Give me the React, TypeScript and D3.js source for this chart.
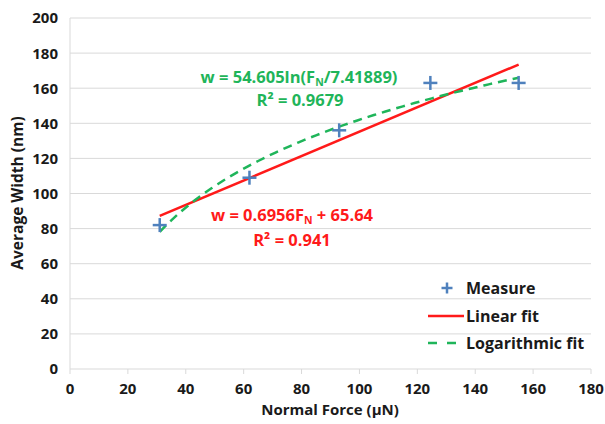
import React from 'react';
import * as d3 from 'd3';

// measured points
const forces = [31, 62, 93, 124.5, 155];
const widths = [82, 109, 136, 163, 163];

// fit coefficients shown on the chart
const linSlope = 0.6956;
const linIntercept = 65.64;
const logA = 54.605;
const logB = 7.41889;
const fitRange = [31, 155];

const xTicks = [0, 20, 40, 60, 80, 100, 120, 140, 160, 180];
const yTicks = [0, 20, 40, 60, 80, 100, 120, 140, 160, 180, 200];

const RED = '#ff1a1a';
const GREEN = '#1fb55a';
const BLUE = '#4f81bd';
const TEXT = '#1a1a1a';
const FONT = '"Open Sans", Arial, sans-serif';

const Plus = ({ x, y, s = 7 }: { x: number; y: number; s?: number }) => (
    <g stroke={BLUE} strokeWidth={2.5}>
        <line x1={x - s} x2={x + s} y1={y} y2={y} />
        <line x1={x} x2={x} y1={y - s} y2={y + s} />
    </g>
);

export default function App() {
    const x = d3.scaleLinear().domain([0, 180]).range([70, 591]);
    const y = d3.scaleLinear().domain([0, 200]).range([369, 18]);

    const line = d3.line<[number, number]>()
        .x(d => x(d[0]))
        .y(d => y(d[1]));

    const linPts: [number, number][] = fitRange.map(f => [f, linSlope * f + linIntercept]);
    const logPts: [number, number][] = d3.range(fitRange[0], fitRange[1] + 0.01, 2)
        .map(f => [f, logA * Math.log(f / logB)]);

    return (
        <svg width={605} height={424} style={{ position: 'absolute', left: 0, top: 0, background: '#fff' }}
            fontFamily={FONT} fontWeight="bold">
            {/* gridlines */}
            {yTicks.map(t => (
                <line key={t} x1={x(0)} x2={x(180)} y1={y(t)} y2={y(t)} stroke="#d9d9d9" strokeWidth={1} />
            ))}
            <line x1={x(0)} x2={x(0)} y1={y(0)} y2={y(200)} stroke="#d9d9d9" />
            {xTicks.map(t => (
                <line key={t} x1={x(t)} x2={x(t)} y1={y(0)} y2={y(0) + 5} stroke="#d9d9d9" />
            ))}

            {/* tick labels */}
            {yTicks.map(t => (
                <text key={t} x={58} y={y(t)} dy="0.36em" textAnchor="end" fontSize={15} fill={TEXT}>{t}</text>
            ))}
            {xTicks.map(t => (
                <text key={t} x={x(t)} y={394} textAnchor="middle" fontSize={15} fill={TEXT}>{t}</text>
            ))}

            {/* axis titles */}
            <text x={330} y={415} textAnchor="middle" fontSize={15} fill={TEXT}>Normal Force (µN)</text>
            <text transform="translate(23,193) rotate(-90)" textAnchor="middle" fontSize={15.5} fill={TEXT}>Average Width (nm)</text>

            {/* fits */}
            <path d={line(linPts) ?? ''} fill="none" stroke={RED} strokeWidth={2.5} />
            <path d={line(logPts) ?? ''} fill="none" stroke={GREEN} strokeWidth={2.5} strokeDasharray="9,6" />

            {/* measures */}
            {forces.map((f, i) => <Plus key={i} x={x(f)} y={y(widths[i])} />)}

            {/* equations */}
            <text x={299} y={83} textAnchor="middle" fontSize={16.5} fill={GREEN}>
                w = 54.605ln(F<tspan fontSize={10.5} dy={3}>N</tspan><tspan dy={-3}>/7.41889)</tspan>
            </text>
            <text x={300} y={106} textAnchor="middle" fontSize={16.5} fill={GREEN}>R² = 0.9679</text>
            <text x={292} y={221} textAnchor="middle" fontSize={16.5} fill={RED}>
                w = 0.6956F<tspan fontSize={10.5} dy={3}>N</tspan><tspan dy={-3}> + 65.64</tspan>
            </text>
            <text x={292} y={246} textAnchor="middle" fontSize={16.5} fill={RED}>R² = 0.941</text>

            {/* legend */}
            <Plus x={447} y={288} s={5.5} />
            <text x={466} y={294} fontSize={16} fill={TEXT}>Measure</text>
            <line x1={428} x2={464} y1={316} y2={316} stroke={RED} strokeWidth={2.5} />
            <text x={466} y={322} fontSize={16} fill={TEXT}>Linear fit</text>
            <line x1={428} x2={456} y1={343} y2={343} stroke={GREEN} strokeWidth={2.5} strokeDasharray="9,10" />
            <text x={466} y={349} fontSize={16} fill={TEXT}>Logarithmic fit</text>
        </svg>
    );
}
